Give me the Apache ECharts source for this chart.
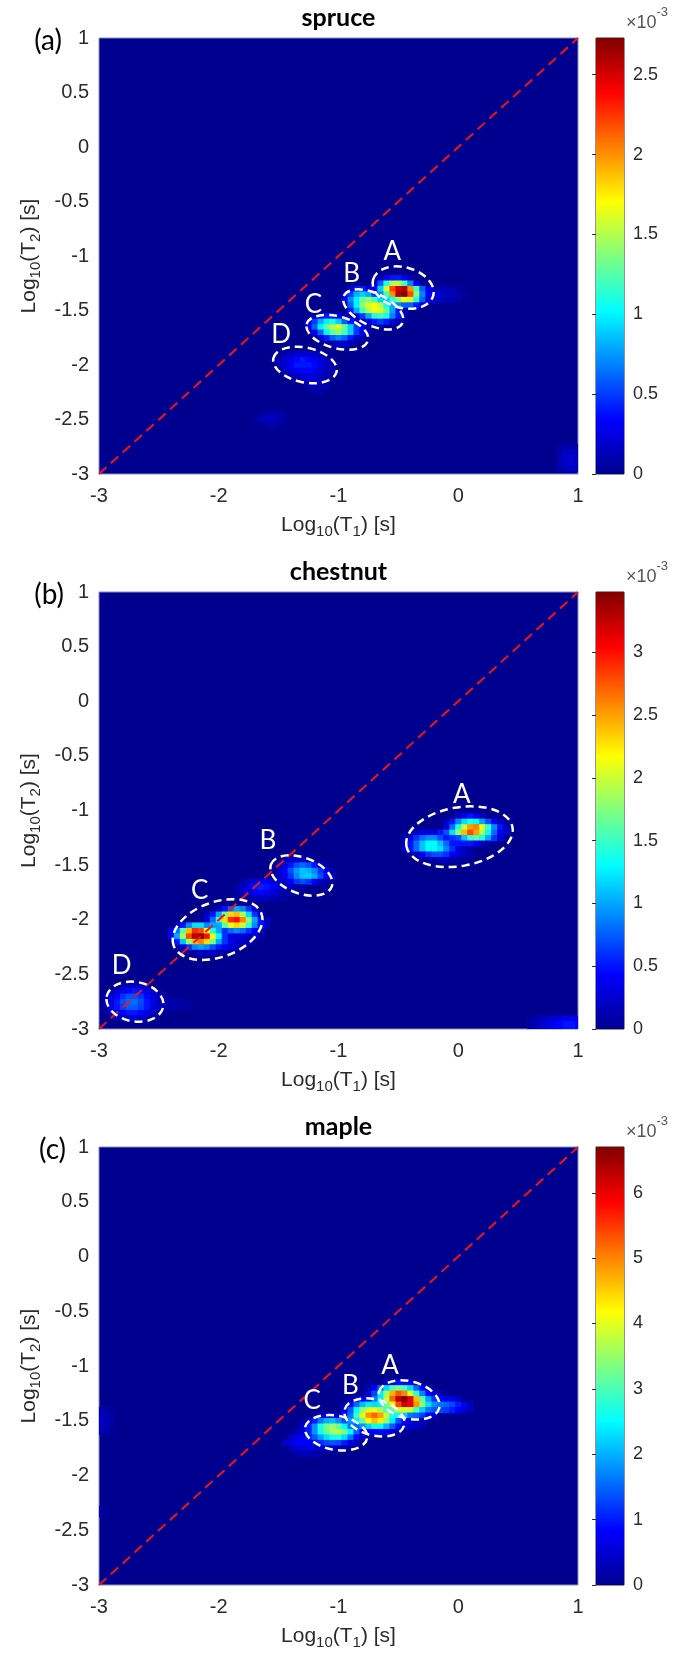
<!DOCTYPE html>
<html>
<head>
<meta charset="utf-8">
<title>T1-T2 maps</title>
<script src="https://cdn.jsdelivr.net/npm/echarts@6/dist/echarts.min.js"></script>
<style>
  html, body { margin: 0; padding: 0; background: #fff; }
  #chart { width: 695px; height: 1655px; }
</style>
</head>
<body>
<div id="chart"></div>
<script>
// grid step of the maps, in decades
const STEP = 0.05

const panelNames = ['spruce', 'chestnut', 'maple']
const panelTags = ['(a)', '(b)', '(c)']
const colorMax = [2.73, 3.48, 6.7]     // x 10^-3
const colorStep = [0.5, 0.5, 1]
const diagonal = [[-3, -3], [1, 1]]

// rows: [log10 T2, first log10 T1, values (x 10^-3) every STEP]
const spruceRows = [
  [-1.20, -0.65, [0.1, 0.3, 0.4, 0.4, 0.3, 0.1]],
  [-1.25, -0.70, [0.2, 0.6, 1.1, 1.5, 1.5, 1.2, 0.7, 0.3]],
  [-1.30, -0.90, [0.2, 0.4, 0.4, 0.2, 0.3, 0.9, 1.6, 2.2, 2.5, 2.6, 2.0, 1.2, 0.6, 0.3, 0.15, 0.1, 0.1, 0.1, 0.05]],
  [-1.35, -0.95, [0.2, 0.5, 0.8, 0.9, 0.8, 0.5, 0.7, 1.2, 2.0, 2.6, 2.73, 2.2, 1.4, 0.7, 0.3, 0.2, 0.2, 0.15, 0.15, 0.1, 0.05]],
  [-1.40, -0.95, [0.3, 0.7, 1.0, 1.3, 1.4, 1.2, 0.9, 0.9, 1.1, 1.4, 1.7, 1.6, 1.1, 0.6, 0.3, 0.2, 0.15, 0.1, 0.1, 0.05]],
  [-1.45, -0.90, [0.6, 1.0, 1.4, 1.6, 1.7, 1.5, 1.1, 0.8, 0.7, 0.6, 0.6, 0.4, 0.2]],
  [-1.50, -0.90, [0.4, 0.8, 1.2, 1.5, 1.7, 1.6, 1.3, 0.8, 0.4, 0.1]],
  [-1.55, -1.20, [0.1, 0.3, 0.4, 0.4, 0.3, 0.1, 0.1, 0.2, 0.5, 0.8, 1.1, 1.2, 1.1, 0.7, 0.4, 0.1]],
  [-1.60, -1.25, [0.2, 0.5, 0.8, 1.0, 1.1, 0.9, 0.6, 0.4, 0.2, 0.1, 0.2, 0.4, 0.5, 0.4, 0.2, 0.1]],
  [-1.65, -1.25, [0.3, 0.6, 1.0, 1.3, 1.5, 1.6, 1.3, 0.9, 0.5, 0.3, 0.1]],
  [-1.70, -1.20, [0.3, 0.6, 1.0, 1.3, 1.4, 1.2, 0.9, 0.5, 0.3, 0.1]],
  [-1.75, -1.15, [0.2, 0.4, 0.6, 0.7, 0.6, 0.4, 0.2, 0.1]],
  [-1.80, -1.05, [0.1, 0.2, 0.2, 0.1]],
  [-1.90, -1.45, [0.1, 0.15, 0.2, 0.2, 0.2, 0.15, 0.1]],
  [-1.95, -1.50, [0.1, 0.2, 0.3, 0.35, 0.4, 0.35, 0.3, 0.2, 0.15, 0.1]],
  [-2.00, -1.50, [0.1, 0.2, 0.3, 0.4, 0.4, 0.4, 0.35, 0.25, 0.15, 0.1]],
  [-2.05, -1.45, [0.15, 0.25, 0.3, 0.35, 0.35, 0.3, 0.2, 0.15, 0.1]],
  [-2.10, -1.40, [0.1, 0.15, 0.2, 0.25, 0.2, 0.15, 0.1]],
  [-2.15, -1.30, [0.1, 0.15, 0.15, 0.15, 0.1]],
  [-2.20, -1.25, [0.1, 0.1, 0.1, 0.1]],
  [-2.25, -1.20, [0.05, 0.05]],
  [-2.45, -1.65, [0.05, 0.1, 0.1, 0.1, 0.05]],
  [-2.50, -1.70, [0.05, 0.1, 0.15, 0.15, 0.1, 0.05]],
  [-2.55, -1.60, [0.05, 0.1, 0.05]],
  [-2.75, 0.85, [0.05, 0.1, 0.1, 0.05]],
  [-2.80, 0.85, [0.1, 0.15, 0.15, 0.1]],
  [-2.85, 0.85, [0.1, 0.2, 0.2, 0.15]],
  [-2.90, 0.85, [0.1, 0.2, 0.2, 0.15]],
  [-2.95, 0.85, [0.1, 0.15, 0.15, 0.1]]
]

const chestnutRows = [
  [-1.05, 0.00, [0.2, 0.4, 0.5, 0.4, 0.2]],
  [-1.10, -0.10, [0.2, 0.5, 0.9, 1.2, 1.4, 1.3, 1.0, 0.7, 0.4, 0.2]],
  [-1.15, -0.10, [0.3, 0.8, 1.4, 2.0, 2.5, 2.6, 2.1, 1.5, 0.9, 0.5, 0.2]],
  [-1.20, -0.40, [0.1, 0.2, 0.3, 0.3, 0.3, 0.5, 0.7, 1.2, 1.8, 2.4, 2.8, 2.5, 1.9, 1.3, 0.8, 0.4, 0.2]],
  [-1.25, -0.45, [0.1, 0.3, 0.6, 0.8, 0.9, 0.9, 0.7, 0.5, 0.6, 0.7, 1.1, 1.5, 1.6, 1.4, 1.0, 0.6, 0.3]],
  [-1.30, -0.45, [0.2, 0.5, 0.8, 1.1, 1.3, 1.3, 1.1, 0.8, 0.5, 0.5, 0.5, 0.5, 0.4, 0.2, 0.1]],
  [-1.35, -0.45, [0.2, 0.5, 0.8, 1.1, 1.3, 1.3, 1.2, 0.9, 0.6, 0.3, 0.2, 0.1]],
  [-1.40, -0.35, [0.2, 0.4, 0.6, 0.7, 0.7, 0.6, 0.4, 0.3, 0.2, 0.1]],
  [-1.45, -0.25, [0.1, 0.1, 0.2, 0.2, 0.1, 0.1, 0.05]],
  [-1.45, -1.45, [0.1, 0.2, 0.3, 0.2, 0.1]],
  [-1.50, -1.50, [0.1, 0.3, 0.5, 0.7, 0.8, 0.7, 0.5, 0.3, 0.1]],
  [-1.55, -1.50, [0.2, 0.4, 0.7, 0.95, 1.1, 1.05, 0.9, 0.6, 0.3, 0.1]],
  [-1.60, -1.50, [0.2, 0.4, 0.6, 0.9, 1.1, 1.15, 1.0, 0.7, 0.4, 0.2]],
  [-1.65, -1.80, [0.1, 0.2, 0.3, 0.4, 0.4, 0.3, 0.2, 0.2, 0.4, 0.6, 0.7, 0.6, 0.4, 0.2, 0.1]],
  [-1.70, -1.85, [0.1, 0.2, 0.35, 0.5, 0.55, 0.5, 0.4, 0.3, 0.2, 0.2, 0.1, 0.1]],
  [-1.75, -1.85, [0.1, 0.2, 0.3, 0.4, 0.45, 0.4, 0.3, 0.2, 0.1, 0.05]],
  [-1.80, -1.75, [0.1, 0.15, 0.2, 0.2, 0.15, 0.1, 0.05]],
  [-1.90, -2.00, [0.2, 0.5, 0.8, 1.0, 0.9, 0.6, 0.3]],
  [-1.95, -2.10, [0.2, 0.5, 1.0, 1.7, 2.3, 2.4, 1.9, 1.2, 0.6, 0.2]],
  [-2.00, -2.10, [0.3, 0.8, 1.5, 2.3, 2.9, 3.0, 2.6, 1.8, 1.0, 0.5, 0.2]],
  [-2.05, -2.35, [0.2, 0.5, 0.9, 1.2, 1.2, 0.9, 1.0, 1.0, 1.6, 2.1, 2.3, 2.0, 1.5, 0.9, 0.5, 0.2]],
  [-2.10, -2.40, [0.3, 0.8, 1.6, 2.4, 2.9, 2.8, 2.2, 1.4, 1.0, 0.6, 0.8, 0.9, 0.8, 0.6, 0.4, 0.2]],
  [-2.15, -2.40, [0.4, 1.0, 1.9, 2.8, 3.3, 3.45, 3.0, 2.2, 1.3, 0.6, 0.3, 0.3, 0.3, 0.2, 0.2, 0.1]],
  [-2.20, -2.35, [0.5, 1.1, 1.8, 2.4, 2.6, 2.3, 1.7, 1.0, 0.6, 0.4, 0.2, 0.2, 0.2, 0.1]],
  [-2.25, -2.30, [0.3, 0.6, 0.9, 1.0, 0.9, 0.7, 0.5, 0.4, 0.3, 0.2]],
  [-2.30, -2.20, [0.1, 0.2, 0.2, 0.2, 0.1]],
  [-2.60, -2.80, [0.1, 0.2, 0.2, 0.2, 0.1]],
  [-2.65, -2.90, [0.1, 0.2, 0.35, 0.45, 0.5, 0.45, 0.35, 0.2, 0.1]],
  [-2.70, -2.95, [0.1, 0.25, 0.45, 0.6, 0.7, 0.7, 0.6, 0.45, 0.3, 0.15, 0.1]],
  [-2.75, -2.95, [0.15, 0.3, 0.5, 0.7, 0.8, 0.8, 0.7, 0.5, 0.35, 0.2, 0.15, 0.1, 0.1, 0.1, 0.05]],
  [-2.80, -2.95, [0.1, 0.3, 0.5, 0.65, 0.75, 0.75, 0.65, 0.5, 0.3, 0.2, 0.15, 0.1, 0.1, 0.05, 0.05]],
  [-2.85, -2.90, [0.2, 0.35, 0.45, 0.5, 0.5, 0.45, 0.35, 0.2, 0.1]],
  [-2.90, -2.85, [0.1, 0.2, 0.25, 0.25, 0.2, 0.1, 0.05]],
  [-2.90, 0.60, [0.05, 0.1, 0.15, 0.2, 0.25, 0.3, 0.35, 0.35, 0.3]],
  [-2.95, 0.60, [0.1, 0.15, 0.25, 0.3, 0.4, 0.45, 0.5, 0.5, 0.45]],
  [-3.00, 0.60, [0.1, 0.15, 0.25, 0.3, 0.4, 0.45, 0.5, 0.5, 0.45]]
]

const mapleRows = [
  [-1.15, -0.60, [0.3, 0.6, 0.9, 0.9, 0.6, 0.3]],
  [-1.20, -0.75, [0.3, 0.8, 1.5, 2.3, 3.0, 3.3, 3.0, 2.3, 1.5, 0.8, 0.3]],
  [-1.25, -0.75, [0.5, 1.3, 2.4, 3.6, 4.7, 5.3, 5.0, 4.0, 2.8, 1.7, 0.9, 0.5, 0.3]],
  [-1.30, -0.90, [0.2, 0.5, 0.8, 0.9, 1.6, 2.4, 3.8, 5.2, 6.3, 6.7, 6.0, 4.6, 3.1, 1.9, 1.2, 0.9, 0.7, 0.6, 0.4]],
  [-1.35, -0.95, [0.3, 0.8, 1.5, 2.1, 2.4, 2.3, 2.4, 3.2, 4.2, 5.4, 6.2, 6.0, 4.9, 3.5, 2.3, 1.8, 1.6, 1.5, 1.3, 1.0, 0.7, 0.4]],
  [-1.40, -0.95, [0.6, 1.4, 2.5, 3.4, 4.0, 4.1, 3.6, 3.0, 3.2, 3.8, 4.0, 3.8, 3.0, 2.2, 1.6, 1.4, 1.3, 1.2, 1.0, 0.8, 0.5, 0.3]],
  [-1.45, -1.20, [0.2, 0.4, 0.6, 0.6, 0.5, 1.0, 1.6, 2.9, 4.0, 4.9, 5.2, 4.8, 3.8, 2.6, 2.5, 2.2, 1.6, 1.5, 1.2, 0.8, 0.5]],
  [-1.50, -1.30, [0.2, 0.5, 1.0, 1.6, 2.0, 2.1, 1.8, 1.3, 1.8, 2.4, 3.2, 4.2, 4.6, 4.3, 3.5, 2.4, 1.4, 0.8, 0.5, 0.4, 0.3, 0.2]],
  [-1.55, -1.30, [0.4, 1.0, 1.8, 2.7, 3.3, 3.5, 3.2, 2.5, 1.6, 1.5, 1.8, 2.2, 2.6, 2.5, 2.0, 1.4, 0.9, 0.6, 0.5, 0.4, 0.2]],
  [-1.60, -1.35, [0.3, 0.5, 1.0, 1.8, 2.6, 3.2, 3.6, 3.7, 3.3, 2.5, 1.5, 0.8, 0.8, 0.8, 0.9, 0.7, 0.4, 0.2]],
  [-1.65, -1.40, [0.4, 0.6, 0.8, 1.0, 1.4, 1.9, 2.3, 2.6, 2.7, 2.3, 1.6, 0.9, 0.4, 0.1]],
  [-1.70, -1.45, [0.4, 0.6, 0.8, 0.8, 0.8, 0.9, 1.1, 1.3, 1.4, 1.3, 1.0, 0.6, 0.3]],
  [-1.75, -1.40, [0.3, 0.5, 0.6, 0.6, 0.5, 0.5, 0.5, 0.4, 0.3, 0.2]],
  [-1.80, -1.35, [0.2, 0.3, 0.3, 0.2, 0.1]],
  [-1.40, -3.00, [0.3, 0.2, 0.1]],
  [-1.45, -3.00, [0.4, 0.3, 0.15]],
  [-1.50, -3.00, [0.5, 0.35, 0.2]],
  [-1.55, -3.00, [0.4, 0.3, 0.15]],
  [-1.60, -3.00, [0.3, 0.2, 0.1]],
  [-2.30, -3.00, [0.2, 0.1]],
  [-2.35, -3.00, [0.2, 0.1]]
]

// ellipses: [centre T1, centre T2, semi-axis, semi-axis, tilt deg clockwise], axes in T1 decades
const spruceEllipses = [
  [-0.46, -1.29, 0.26, 0.17, 15],
  [-0.71, -1.49, 0.27, 0.135, 25],
  [-1.01, -1.70, 0.265, 0.133, 15],
  [-1.28, -2.00, 0.27, 0.145, 12]
]
const chestnutEllipses = [
  [0.01, -1.24, 0.45, 0.245, -10],
  [-1.31, -1.595, 0.27, 0.15, 20],
  [-2.01, -2.09, 0.39, 0.23, -20],
  [-2.70, -2.75, 0.24, 0.165, 10]
]
const mapleEllipses = [
  [-0.41, -1.31, 0.26, 0.155, 15],
  [-0.70, -1.47, 0.257, 0.15, 15],
  [-1.02, -1.61, 0.263, 0.143, 10]
]

// peak letters: [T1, T2, text]
const spruceLetters = [[-0.55, -0.96, 'A'], [-0.89, -1.16, 'B'], [-1.21, -1.45, 'C'], [-1.48, -1.72, 'D']]
const chestnutLetters = [[0.03, -0.85, 'A'], [-1.59, -1.28, 'B'], [-2.16, -1.73, 'C'], [-2.81, -2.42, 'D']]
const mapleLetters = [[-0.57, -1.0, 'A'], [-0.90, -1.18, 'B'], [-1.22, -1.32, 'C']]

const allRows = [spruceRows, chestnutRows, mapleRows]
const allEllipses = [spruceEllipses, chestnutEllipses, mapleEllipses]
const allLetters = [spruceLetters, chestnutLetters, mapleLetters]

// MATLAB jet
const JET = ['#00008F', '#0000FF', '#0080FF', '#00FFFF', '#80FF80', '#FFFF00', '#FF8000', '#FF0000', '#800000']

// layout
const PLOT_LEFT = 99
const PLOT_W = 479
const BAR_LEFT = 596
const BAR_W = 28
const plotTops = [38, 592, 1147]
const plotHeights = [436, 437, 438]

const AXIS_FONT = 'Liberation Sans'
const LABEL_FONT = 'Lato'
const TEXT_COLOR = '#2b2b2b'

function cellsFrom(rows) {
  const out = []
  rows.forEach(([y, x0, vals]) => {
    vals.forEach((v, k) => out.push([+(x0 + k * STEP).toFixed(3), y, v]))
  })
  return out
}

function renderCell(params, api) {
  const x = api.value(0)
  const y = api.value(1)
  const p0 = api.coord([x - STEP / 2, y + STEP / 2])
  const p1 = api.coord([x + STEP / 2, y - STEP / 2])
  const cs = params.coordSys
  const shape = echarts.graphic.clipRectByRect(
    { x: p0[0], y: p0[1], width: p1[0] - p0[0] + 0.6, height: p1[1] - p0[1] + 0.6 },
    { x: cs.x, y: cs.y, width: cs.width, height: cs.height }
  )
  if (!shape) return
  return { type: 'rect', shape: shape, style: { fill: api.visual('color') } }
}

function renderEllipse(params, api) {
  const c = api.coord([api.value(0), api.value(1)])
  const unit = api.size([1, 1])[0]
  return {
    type: 'ellipse',
    x: c[0],
    y: c[1],
    rotation: -api.value(4) * Math.PI / 180,
    shape: { cx: 0, cy: 0, rx: api.value(2) * unit, ry: api.value(3) * unit },
    style: { fill: null, stroke: '#fff', lineWidth: 2.5, lineDash: [8, 5] }
  }
}

function renderLetter(params, api) {
  const c = api.coord([api.value(0), api.value(1)])
  return {
    type: 'text',
    x: c[0],
    y: c[1],
    style: {
      text: api.value(2),
      fill: '#fff',
      font: '26px ' + LABEL_FONT,
      align: 'center',
      verticalAlign: 'middle'
    }
  }
}

function renderBar(params, api) {
  const p0 = api.coord([0, api.value(1)])
  const p1 = api.coord([1, api.value(0)])
  return {
    type: 'rect',
    shape: { x: p0[0], y: p0[1], width: p1[0] - p0[0], height: p1[1] - p0[1] },
    style: {
      fill: new echarts.graphic.LinearGradient(0, 1, 0, 0,
        JET.map((c, k) => ({ offset: k / (JET.length - 1), color: c })))
    }
  }
}

const nameRich = {
  n: { fontSize: 21, color: TEXT_COLOR, fontFamily: AXIS_FONT, lineHeight: 28, verticalAlign: 'middle' },
  s: { fontSize: 15, color: TEXT_COLOR, fontFamily: AXIS_FONT, lineHeight: 28, verticalAlign: 'bottom' }
}

const grid = []
const xAxis = []
const yAxis = []
const series = []
const visualMap = []
const title = []
const graphic = []

panelNames.forEach((name, i) => {
  const top = plotTops[i]
  const h = plotHeights[i]

  grid.push({
    left: PLOT_LEFT, top: top, width: PLOT_W, height: h,
    show: true, backgroundColor: JET[0], borderColor: '#8a8ac4', borderWidth: 1
  })
  grid.push({
    left: BAR_LEFT, top: top, width: BAR_W, height: h,
    show: true, backgroundColor: 'transparent', borderColor: TEXT_COLOR, borderWidth: 1
  })

  xAxis.push({
    type: 'value', gridIndex: 2 * i, min: -3, max: 1, interval: 1,
    axisLine: { show: false }, axisTick: { show: false }, splitLine: { show: false },
    axisLabel: { fontSize: 20, color: TEXT_COLOR, fontFamily: AXIS_FONT, margin: 12 },
    name: '{n|Log}{s|10}{n|(T}{s|1}{n|) [s]}',
    nameLocation: 'middle', nameGap: 37,
    nameTextStyle: { rich: nameRich }
  })
  xAxis.push({ type: 'value', gridIndex: 2 * i + 1, min: 0, max: 1, show: false })

  yAxis.push({
    type: 'value', gridIndex: 2 * i, min: -3, max: 1, interval: 0.5,
    axisLine: { show: false }, axisTick: { show: false }, splitLine: { show: false },
    axisLabel: { fontSize: 20, color: TEXT_COLOR, fontFamily: AXIS_FONT, margin: 10 },
    name: '{n|Log}{s|10}{n|(T}{s|2}{n|) [s]}',
    nameLocation: 'middle', nameGap: 53, nameRotate: 90,
    nameTextStyle: { rich: nameRich }
  })
  yAxis.push({
    type: 'value', gridIndex: 2 * i + 1, min: 0, max: colorMax[i], interval: colorStep[i],
    position: 'right',
    axisLine: { show: false }, splitLine: { show: false },
    axisTick: { show: true, inside: true, length: 4, lineStyle: { color: TEXT_COLOR } },
    axisLabel: {
      fontSize: 18, color: TEXT_COLOR, fontFamily: AXIS_FONT, margin: 9, showMaxLabel: false,
      formatter: v => (Math.abs(v / colorStep[i] - Math.round(v / colorStep[i])) < 1e-6 ? String(v) : '')
    }
  })

  visualMap.push({
    type: 'continuous', show: false, min: 0, max: colorMax[i], dimension: 2,
    seriesIndex: series.length, inRange: { color: JET }
  })

  series.push({
    type: 'custom', name: name, xAxisIndex: 2 * i, yAxisIndex: 2 * i,
    renderItem: renderCell, encode: { x: 0, y: 1 },
    data: cellsFrom(allRows[i]), silent: true, z: 1
  })
  series.push({
    type: 'line', xAxisIndex: 2 * i, yAxisIndex: 2 * i,
    data: diagonal, symbol: 'none', silent: true, z: 3,
    lineStyle: { color: '#f01414', width: 2, type: [10, 6] }
  })
  series.push({
    type: 'custom', xAxisIndex: 2 * i, yAxisIndex: 2 * i,
    renderItem: renderEllipse, encode: { x: 0, y: 1 },
    data: allEllipses[i], silent: true, z: 4
  })
  series.push({
    type: 'custom', xAxisIndex: 2 * i, yAxisIndex: 2 * i,
    renderItem: renderLetter, encode: { x: 0, y: 1 },
    data: allLetters[i], silent: true, z: 5
  })
  series.push({
    type: 'custom', xAxisIndex: 2 * i + 1, yAxisIndex: 2 * i + 1,
    renderItem: renderBar, data: [[0, colorMax[i]]], silent: true, z: 1
  })

  title.push({
    text: name, left: PLOT_LEFT + PLOT_W / 2, top: top - 33, textAlign: 'center', padding: 0,
    textStyle: { fontSize: 25, fontWeight: 'bold', color: '#000', fontFamily: LABEL_FONT }
  })

  graphic.push({
    type: 'text', right: 695 - 62 - i * 2, top: top - 11,
    style: { text: panelTags[i], font: '28px ' + LABEL_FONT, fill: '#000' }
  })
  graphic.push({
    type: 'text', left: 626, top: top - 32,
    style: {
      text: '{n|×10}{p|-3}',
      rich: {
        n: { fontSize: 18, fontFamily: AXIS_FONT, fill: '#555', lineHeight: 26, verticalAlign: 'bottom' },
        p: { fontSize: 13, fontFamily: AXIS_FONT, fill: '#555', lineHeight: 26, verticalAlign: 'top' }
      }
    }
  })
})

const chart = echarts.init(document.getElementById('chart'))
chart.setOption({
  animation: false,
  backgroundColor: '#fff',
  title: title,
  grid: grid,
  xAxis: xAxis,
  yAxis: yAxis,
  visualMap: visualMap,
  series: series,
  graphic: graphic
})
</script>
</body>
</html>
